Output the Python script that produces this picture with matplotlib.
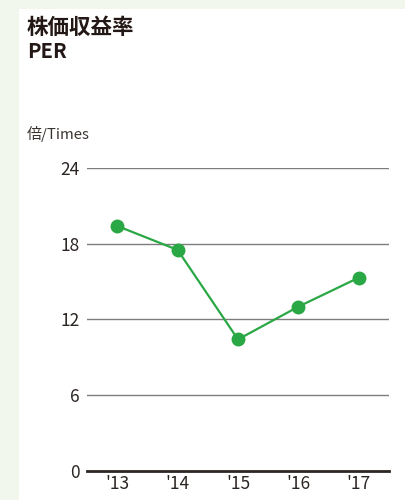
import matplotlib.pyplot as plt
from matplotlib.patches import Rectangle

plt.rcParams['font.family'] = ['Noto Sans CJK JP', 'DejaVu Sans']

years = ["'13", "'14", "'15", "'16", "'17"]
per = [19.4, 17.5, 10.4, 13.0, 15.3]
yticks = [0, 6, 12, 18, 24]

fig = plt.figure(figsize=(4.05, 5.0), dpi=100)
fig.patch.set_facecolor('#f1f7ed')
fig.patches.append(Rectangle((18.7 / 405, 0), 1, (500 - 9) / 500,
                             transform=fig.transFigure, facecolor='white',
                             edgecolor='none', zorder=-5))

ax = fig.add_axes([87 / 405, 29.5 / 500, 302 / 405, 302.5 / 500])
ax.set_facecolor('none')

for v in yticks:
    if v == 0:
        ax.axhline(v, color='#2b2523', lw=2.0, zorder=1, clip_on=False)
    else:
        ax.axhline(v, color='#7d7d7d', lw=1.0, zorder=1)

x = list(range(len(years)))
ax.plot(x, per, color='#2aa845', lw=1.6, marker='o', markersize=9,
        zorder=3, clip_on=False)

ax.set_xlim(-0.5, 4.5)
ax.set_ylim(0, 24)
ax.set_xticks(x)
ax.set_xticklabels(years)
ax.set_yticks(yticks)
ax.tick_params(length=0, labelsize=12.5, colors='#2b2523', pad=5)
ax.tick_params(axis='x', pad=3)
for s in ax.spines.values():
    s.set_visible(False)

fig.text(27 / 405, 1 - 28 / 500, '株価収益率', fontsize=15.5, fontweight='bold',
         color='#231815', va='center', ha='left')
fig.text(27 / 405, 1 - 52 / 500, 'PER', fontsize=14.5, fontweight='bold',
         color='#231815', va='center', ha='left')
fig.text(27 / 405, 1 - 134 / 500, '倍/Times', fontsize=10.8,
         color='#3a3430', va='center', ha='left')

fig.savefig('out.png', dpi=100, facecolor=fig.get_facecolor())
